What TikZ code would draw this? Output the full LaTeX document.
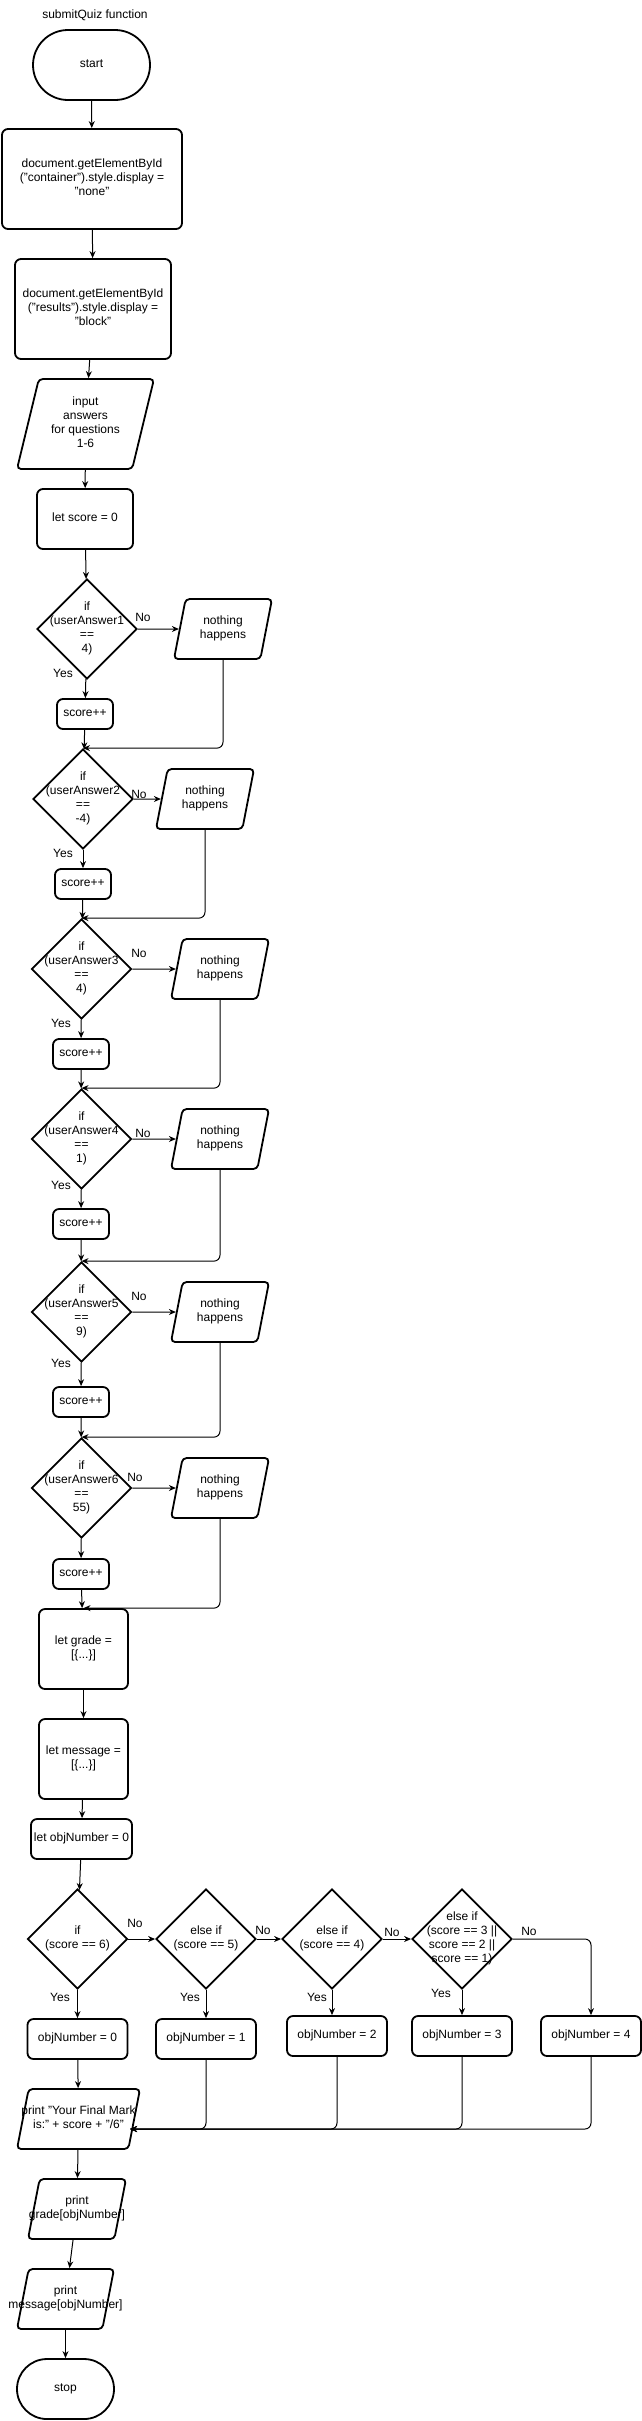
\documentclass[tikz,border=0pt]{standalone}
\usepackage{fontspec}
\setmainfont{Liberation Sans}
\usetikzlibrary{shapes.geometric,shapes.misc,arrows.meta}
\newcommand\boxtext[1]{\makebox[0pt]{\begin{tabular}{@{}c@{}}#1\end{tabular}}}
\begin{document}
\begin{tikzpicture}[x=1pt,y=-1pt,font=\fontsize{12}{14}\selectfont,
  outline/.style={draw,line width=1.8pt,inner sep=2pt},
  term/.style 2 args={outline,rounded rectangle,minimum width=#1,minimum height=#2},
  proc/.style 2 args={outline,rectangle,rounded corners=6pt,minimum width=#1,minimum height=#2},
  io/.style 2 args={outline,trapezium,trapezium left angle=70,trapezium right angle=110,
    trapezium stretches body,rounded corners=4pt,minimum width=#1,minimum height=#2},
  decision/.style={outline,diamond,aspect=1,minimum width=100pt,minimum height=100pt},
  flow/.style={-{Stealth[length=7pt,width=6pt]},line width=1pt}]
\useasboundingbox (0,0) rectangle (642,2421);
\node (title) at (95,15) {submitQuiz function};
\node[term={121pt}{70pt}] (start) at (91.5,65) {\boxtext{start}};
\node[proc={180pt}{100pt}] (hide) at (92,179) {\boxtext{document.getElementById\\("container").style.display =\\"none"}};
\node[proc={156pt}{100pt}] (show) at (93,309) {\boxtext{document.getElementById\\("results").style.display =\\"block"}};
\node[io={137pt}{90pt}] (answers) at (85.5,424) {\boxtext{input\\answers\\for questions\\1-6}};
\node[proc={96pt}{60pt}] (score) at (85,519) {\boxtext{let score = 0}};
\draw[flow] (start) -- (hide);
\draw[flow] (hide) -- (show);
\draw[flow] (show) -- (answers);
\draw[flow] (answers) -- (score);
% one block per question
\foreach \i/\dx/\dy/\nx/\sx/\sy/\ans in {1/87/629/223/85/714/4, 2/83/799/205/83/884/-4,
  3/81.5/969/220/81/1054/4, 4/81.5/1139/220/81/1224/1, 5/81.5/1312/220/81/1402/9, 6/81.5/1488/220/81/1574/55}
{
  \node[decision] (q\i) at (\dx,\dy) {\boxtext{if\\(userAnswer\i\\==\\\ans)}};
  \node[io={98pt}{60pt}] (none\i) at (\nx,\dy) {\boxtext{nothing\\happens}};
  \node[proc={56pt}{30pt}] (inc\i) at (\sx,\sy) {\boxtext{score++}};
  \draw[flow] (q\i) -- (none\i);
  \draw[flow] (q\i) -- (inc\i);
}
\draw[flow] (score) -- (q1);
\node[proc={89pt}{80pt}] (grade) at (83.5,1649) {\boxtext{let grade =\\{}[\{...\}]}};
\node[proc={89pt}{80pt}] (message) at (83.5,1759) {\boxtext{let message =\\{}[\{...\}]}};
\node[proc={101pt}{40pt}] (objnum) at (81.5,1839) {\boxtext{let objNumber = 0}};
% joins after each question
\foreach \i/\next in {1/q2, 2/q3, 3/q4, 4/q5, 5/q6, 6/grade}
{
  \draw[flow] (inc\i) -- (\next);
  \draw[flow,rounded corners=6pt] (none\i.south) |- (\next.north);
}
\draw[flow] (grade) -- (message);
\draw[flow] (message) -- (objnum);
% grade choice
\foreach \c/\x/\cond in {a/77.5/{if\\(score == 6)}, b/206/{else if\\(score == 5)},
  c/332/{else if\\(score == 4)}, d/462/{else if\\(score == 3 ||\\score == 2 ||\\score == 1)}}
  \node[decision] (s\c) at (\x,1939) {\boxtext{\cond}};
\foreach \i/\x/\y in {0/77.5/2039, 1/206/2039, 2/337/2036, 3/462/2036, 4/591/2036}
  \node[proc={100pt}{40pt}] (obj\i) at (\x,\y) {\boxtext{objNumber = \i}};
\draw[flow] (objnum) -- (sa);
\draw[flow] (sa) -- (sb);
\draw[flow] (sb) -- (sc);
\draw[flow] (sc) -- (sd);
\draw[flow,rounded corners=6pt] (sd.east) -| (obj4.north);
\draw[flow] (sa) -- (obj0);
\draw[flow] (sb) -- (obj1);
\draw[flow] (sc.south) -- (sc.south |- obj2.north);
\draw[flow] (sd) -- (obj3);
\node[io={123pt}{60pt}] (mark) at (78.5,2119) {\boxtext{print "Your Final Mark\\is:" + score + "/6"}};
\node[io={98pt}{60pt}] (gradeout) at (77,2209) {\boxtext{print\\grade[objNumber]}};
\node[io={97pt}{60pt}] (msgout) at (65.5,2299) {\boxtext{print\\message[objNumber]}};
\node[term={101pt}{60pt}] (stop) at (65.5,2389) {\boxtext{stop}};
\draw[flow] (obj0) -- (mark);
\foreach \i in {1,...,4}
  \draw[flow,rounded corners=6pt] (obj\i.south) |- ([xshift=-5pt,yshift=-10pt]mark.east);
\draw[flow] (mark) -- (gradeout);
\draw[flow] (gradeout) -- (msgout);
\draw[flow] (msgout) -- (stop);
% edge labels
\foreach \n/\x/\y in {1/143/617, 2/139/794, 3/139/953, 4/143/1133, 5/139/1296, 6/135/1477,
  a/135/1923, b/263/1930, c/392/1932, d/529/1931}
  \node (no\n) at (\x,\y) {No};
\foreach \n/\x/\y in {1/63/673, 2/63/853, 3/61/1023, 4/61/1185, 5/61/1363,
  a/60/1997, b/190/1997, c/317/1997, d/441/1993}
  \node (yes\n) at (\x,\y) {Yes};
\end{tikzpicture}
\end{document}
